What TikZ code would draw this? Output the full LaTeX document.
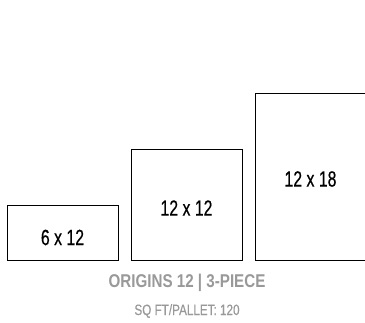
\documentclass[tikz,border=0pt]{standalone}
\usepackage{fontspec}
\setmainfont{Liberation Sans}
\newfontfamily\boxfont[FakeStretch=0.72,FakeBold=0.4]{Liberation Sans}
\newfontfamily\titlefont[FakeStretch=0.82]{Liberation Sans}
\newfontfamily\subfont[FakeStretch=0.78,FakeBold=0.3]{Liberation Sans}
\definecolor{capgray}{HTML}{999999}
\begin{document}
\begin{tikzpicture}[x=1pt,y=-1pt,
  tile/.style={draw=black,line width=1pt,rectangle,minimum width=111pt,inner sep=0pt,outer sep=0pt,anchor=north west},
  lbl/.style={font=\boxfont\fontsize{22}{22}\selectfont,inner sep=0pt,anchor=center},
  ttl/.style={font=\titlefont\bfseries\fontsize{18.5}{18.5}\selectfont,text=capgray,inner sep=0pt,anchor=center},
  sub/.style={font=\subfont\fontsize{15}{15}\selectfont,text=capgray,inner sep=0pt,anchor=center}]
\useasboundingbox (0,0) rectangle (365,323);
\clip (0,0) rectangle (365,323);
\fill[white] (0,0) rectangle (365,323);
\node[tile,minimum height=55pt] (b1) at (7,206) {};
\node[tile,minimum height=111pt] (b2) at (131,150) {};
\node[tile,minimum height=167pt] (b3) at (255,94) {};
\node[lbl] (l1) at (62.5,237.5) {6 x 12};
\node[lbl] (l2) at (186.5,208) {12 x 12};
\node[lbl] (l3) at (310.5,179) {12 x 18};
\node[ttl] (t1) at (187,283) {ORIGINS 12 | 3-PIECE};
\node[sub] (t2) at (187,311) {SQ FT/PALLET: 120};
\end{tikzpicture}
\end{document}
